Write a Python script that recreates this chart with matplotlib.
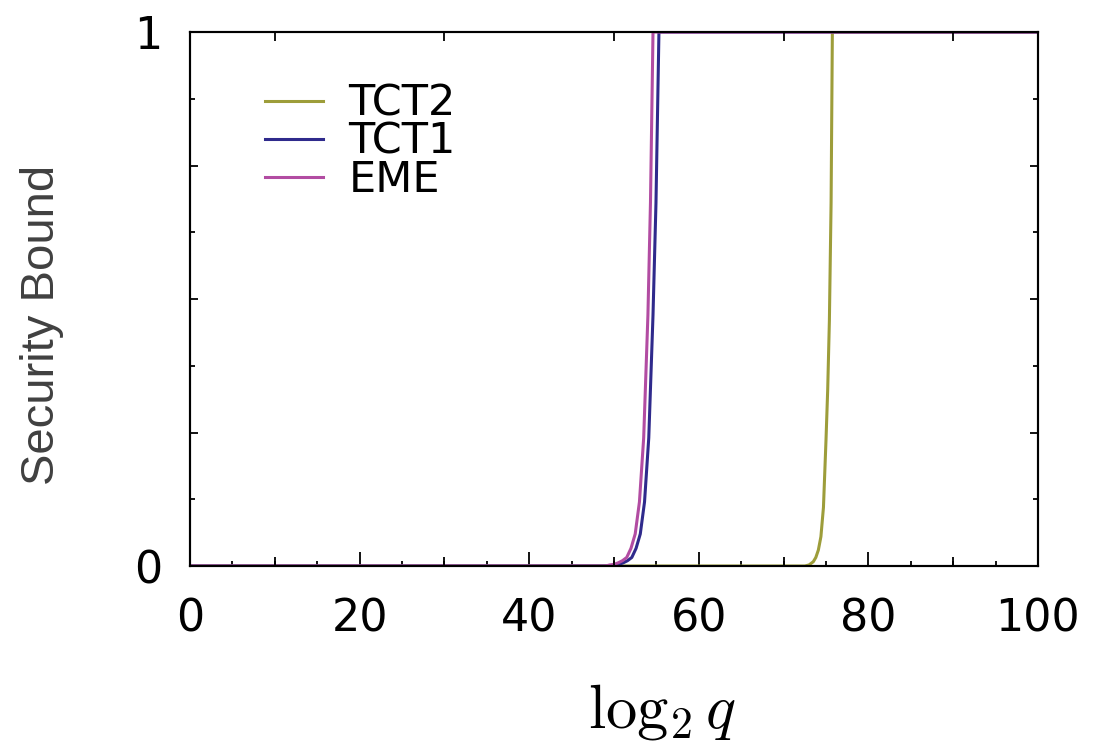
import matplotlib
matplotlib.use("Agg")
import matplotlib.pyplot as plt
from matplotlib.lines import Line2D

# --- data (log2 q vs bound, clipped at 1) ---
tct2_x = [0, 72.5, 73.0, 73.5, 73.8, 74.1, 74.4, 74.7, 75.0, 75.2, 75.4, 75.6, 75.75, 100]
tct2_y = [0, 0.0, 0.002, 0.008, 0.016, 0.03, 0.055, 0.11, 0.236, 0.33, 0.46, 0.68, 1.0, 1.0]

tct1_x = [0, 49.6, 50.1, 50.6, 51.1, 51.6, 52.1, 52.6, 53.1, 53.6, 54.1, 54.6, 54.95, 55.3, 100]
tct1_y = [0, 0.0, 0.002, 0.003, 0.006, 0.01, 0.016, 0.033, 0.06, 0.12, 0.24, 0.47, 0.68, 1.0, 1.0]

eme_x = [0, 49.0, 49.5, 50.0, 50.5, 51.0, 51.5, 52.0, 52.5, 53.0, 53.5, 54.0, 54.3, 54.6, 100]
eme_y = [0, 0.0, 0.002, 0.003, 0.006, 0.01, 0.016, 0.033, 0.06, 0.12, 0.24, 0.47, 0.68, 1.0, 1.0]

series_names = ["TCT2", "TCT1", "EME"]
series_colors = ["#9d9d3a", "#2f2a8c", "#b24ca2"]

x_major = [0, 20, 40, 60, 80, 100]
x_mid = [10, 30, 50, 70, 90]
y_major = [0, 0.25, 0.5, 0.75, 1]
y_labels = ["0", "", "", "", "1"]

W, H = 1107, 747
fig = plt.figure(figsize=(W / 100, H / 100), dpi=100)
ax = fig.add_axes([190 / W, 1 - 566 / H, (1038 - 190) / W, (566 - 32) / H])

lw = 2.2
for xs, ys, name, col in zip([tct2_x, tct1_x, eme_x], [tct2_y, tct1_y, eme_y],
                             series_names, series_colors):
    ax.plot(xs, ys, color=col, lw=lw, label=name, clip_on=True)

ax.set_xlim(0, 100)
ax.set_ylim(0, 1)

# ticks: inward, mirrored, three lengths on x like gnuplot
ax.set_xticks(x_major)
ax.set_xticks(list(range(0, 101, 5)), minor=True)
ax.set_yticks(y_major)
ax.set_yticklabels(y_labels)
ax.set_yticks([i / 8 for i in range(9)], minor=True)
ax.tick_params(axis="x", which="major", direction="in", length=10, width=1.3,
               top=True, bottom=True, labelsize=32, pad=23)
ax.tick_params(axis="x", which="minor", direction="in", length=3.6, width=1.3,
               top=True, bottom=True)
ax.tick_params(axis="y", which="major", direction="in", length=6, width=1.3,
               left=True, right=True, labelsize=32, pad=20)
ax.tick_params(axis="y", which="minor", direction="in", length=3.6, width=1.3,
               left=True, right=True)

ax2 = ax.twiny()
ax2.set_xlim(0, 100)
ax2.set_xticks(x_mid)
ax2.tick_params(axis="x", direction="in", length=6.5, width=1.3, top=True, bottom=True,
                labeltop=False, labelbottom=False)

for a in (ax, ax2):
    for s in a.spines.values():
        s.set_linewidth(1.5)

handles = [Line2D([], [], color=c, lw=lw) for c in series_colors]
ax.legend(handles, series_names, loc="upper left", bbox_to_anchor=(0.088, 0.905),
          frameon=False, fontsize=31, handlelength=1.35, handletextpad=0.6,
          labelspacing=-0.09, borderpad=0, borderaxespad=0)

fig.text(42 / W, 1 - 325 / H, "Security Bound", rotation=90, ha="center", va="center",
         fontsize=34, color="#404040", family="Liberation Sans")
plt.rcParams["mathtext.fontset"] = "cm"
fig.text(662 / W, 1 - 728 / H, r"$\log_2 q$", ha="center", va="baseline", fontsize=45)

fig.savefig("out.png", dpi=100)
